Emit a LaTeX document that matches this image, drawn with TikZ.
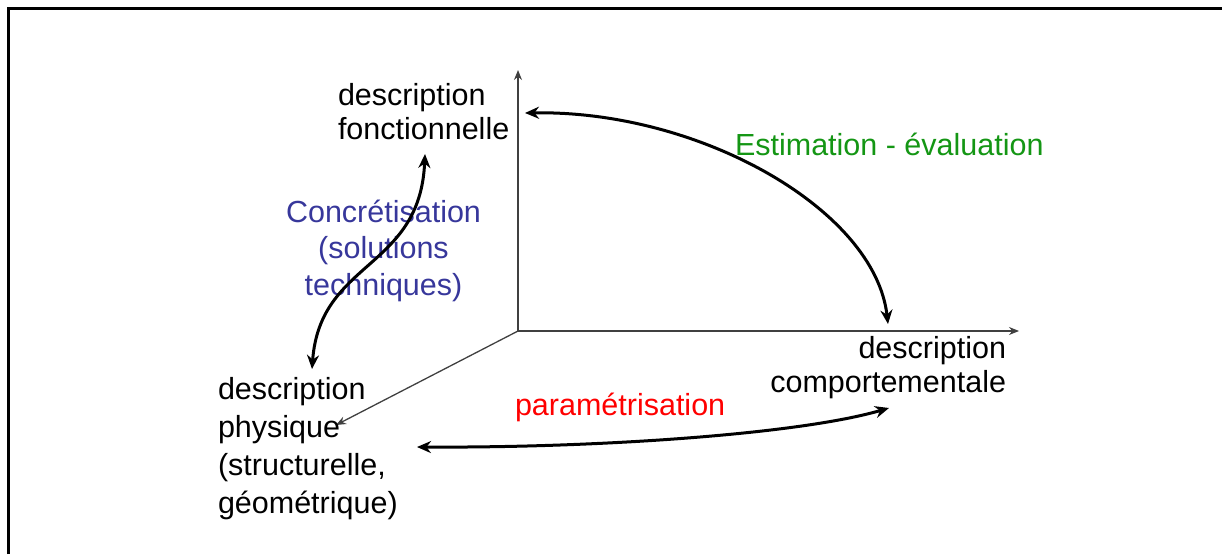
\documentclass[tikz,border=0pt]{standalone}
\usepackage{fontspec}
\setmainfont{Liberation Sans}
\usetikzlibrary{arrows.meta}
\definecolor{axisgray}{RGB}{64,64,64}
\definecolor{concblue}{RGB}{55,55,155}
\definecolor{estgreen}{RGB}{20,150,20}
\definecolor{pared}{RGB}{255,0,0}
\begin{document}
\begin{tikzpicture}[x=1pt,y=-1pt,
  lbl/.style={inner sep=0pt, outer sep=0pt},
  axisline/.style={draw=axisgray, line width=1.3pt, -{Stealth[length=10pt,width=8pt]}},
  flow/.style={line width=3pt, {Stealth[length=14pt,width=12pt]}-{Stealth[length=14pt,width=12pt]}},
  framel/.style={line width=2.7pt}]
\useasboundingbox (0,0) rectangle (1222,554);
% frame
\draw[framel] (8.2,554) -- (8.2,8.7) -- (1222,8.7);
% axes
\coordinate (O) at (518,331);
\coordinate (Ytip) at (518,70);
\coordinate (Xtip) at (1019,331);
\coordinate (Ztip) at (336,425);
\draw[axisline] (O) -- (Ytip);
\draw[axisline] (O) -- (Xtip);
\draw[axisline] (O) -- (Ztip);
% labels (base anchor = baseline of last line)
\node[lbl, anchor=base west, align=left, font=\fontsize{30.5}{34}\selectfont] (fonc) at (338,139)
  {description\\fonctionnelle};
\node[lbl, anchor=base west, align=left, font=\fontsize{30.5}{37.7}\selectfont] (phys) at (218,513)
  {description\\physique\\(structurelle,\\géométrique)};
\node[lbl, anchor=base east, align=right, font=\fontsize{30.5}{34.5}\selectfont] (comp) at (1006,392.5)
  {description\\comportementale};
\node[lbl, anchor=base, align=center, text=concblue, font=\fontsize{30.5}{36.5}\selectfont] (conc) at (383.5,295)
  {Concrétisation\\(solutions\\techniques)};
\node[lbl, anchor=base west, text=estgreen, font=\fontsize{30.5}{36}\selectfont] (est) at (735,155)
  {Estimation - évaluation};
\node[lbl, anchor=base west, text=pared, font=\fontsize{30.5}{36}\selectfont] (par) at (515,415)
  {paramétrisation};
% flow arrows
\coordinate (fA) at (525,113);
\coordinate (cA) at (888,324);
\coordinate (fB) at (425,154);
\coordinate (pB) at (312,369);
\coordinate (pC) at (417,447);
\coordinate (cC) at (889,408);
\draw[flow] (fA) .. controls (700,110) and (875,210) .. (cA);
\draw[flow] (fB) .. controls (420,270) and (320,260) .. (pB);
\draw[flow] (pC) .. controls (600,448) and (800,434) .. (cC);
\end{tikzpicture}
\end{document}
